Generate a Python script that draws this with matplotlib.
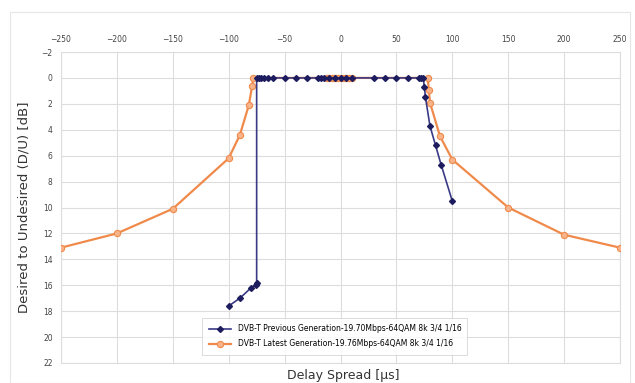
#!/usr/bin/env python3
import numpy as np
from matplotlib import pyplot as plt
from matplotlib.patches import Rectangle

# previous generation (navy)
prev_x = [-100, -90, -80, -76, -75, -75, -73, -71, -68, -65, -60, -50, -40, -30,
          -20, -17, -15, -10, -5, 0, 5, 10, 30, 40, 50, 60, 70, 72, 74,
          75, 76, 80, 85, 90, 100]
prev_y = [17.6, 17.0, 16.2, 16.0, 15.8, 0, 0, 0, 0, 0, 0, 0, 0, 0,
          0, 0, 0, 0, 0, 0, 0, 0, 0, 0, 0, 0, 0, 0, 0,
          0.7, 1.5, 3.7, 5.2, 6.7, 9.5]

# latest generation (orange)
new_x = [-250, -200, -150, -100, -90, -82, -79, -78, -12, -10, -8, -6, -4, -2, 0,
         2, 4, 6, 8, 10, 78, 79, 80, 89, 100, 150, 200, 250]
new_y = [13.1, 12.0, 10.1, 6.2, 4.4, 2.1, 0.6, 0, 0, 0, 0, 0, 0, 0, 0,
         0, 0, 0, 0, 0, 0, 0.9, 1.9, 4.5, 6.3, 10.0, 12.1, 13.1]

prev_label = 'DVB-T Previous Generation-19.70Mbps-64QAM 8k 3/4 1/16'
new_label = 'DVB-T Latest Generation-19.76Mbps-64QAM 8k 3/4 1/16'

xticks = np.arange(-250, 251, 50)
yticks = np.arange(-2, 23, 2)


def main():
    fig = plt.figure(figsize=(6.35, 3.83), dpi=100)
    fig.patches.append(Rectangle((10/635, 0), 620/635, 1 - 12/383, transform=fig.transFigure,
                                 fill=False, edgecolor='#e6e6e6', linewidth=0.8))
    ax = fig.add_axes([61/635, 1 - 363/383, 559/635, 311/383])

    ax.plot(new_x, new_y, color='#f08a4b', linewidth=1.6, marker='o', markersize=4.5,
            markerfacecolor='#f7b48a', markeredgecolor='#f08a4b', markeredgewidth=0.8,
            label=new_label, zorder=3)
    ax.plot(prev_x, prev_y, color='#3a3a86', linewidth=1.2, marker='D', markersize=3,
            markerfacecolor='#1c1c5e', markeredgecolor='#1c1c5e',
            label=prev_label, zorder=4)

    ax.set_xlim(-250, 250)
    ax.set_ylim(22, -2)
    ax.set_xticks(xticks)
    ax.set_yticks(yticks)
    ax.xaxis.tick_top()
    ax.tick_params(axis='both', labelsize=5.5, colors='#444444', length=0, pad=6)
    ax.grid(True, color='#dddddd', linewidth=0.8)
    ax.set_axisbelow(True)
    for s in ax.spines.values():
        s.set_color('#dddddd')
        s.set_linewidth(0.8)

    ax.set_ylabel('Desired to Undesired (D/U) [dB]', fontsize=9.5, color='#333333', labelpad=8)
    fig.text(343/635, 1 - 376/383, 'Delay Spread [\u00b5s]', fontsize=9, color='#333333',
             ha='center', va='center')

    handles, labels = ax.get_legend_handles_labels()
    leg = ax.legend(handles[::-1], labels[::-1], loc='lower center',
                    bbox_to_anchor=(0.49, 0.015), fontsize=5.5, frameon=True,
                    fancybox=False, edgecolor='#cccccc', borderpad=0.8, labelspacing=0.8,
                    handlelength=3)
    leg.get_frame().set_linewidth(0.6)

    plt.savefig('out.png', dpi=100)
    plt.clf()


if __name__ == '__main__':
    main()
